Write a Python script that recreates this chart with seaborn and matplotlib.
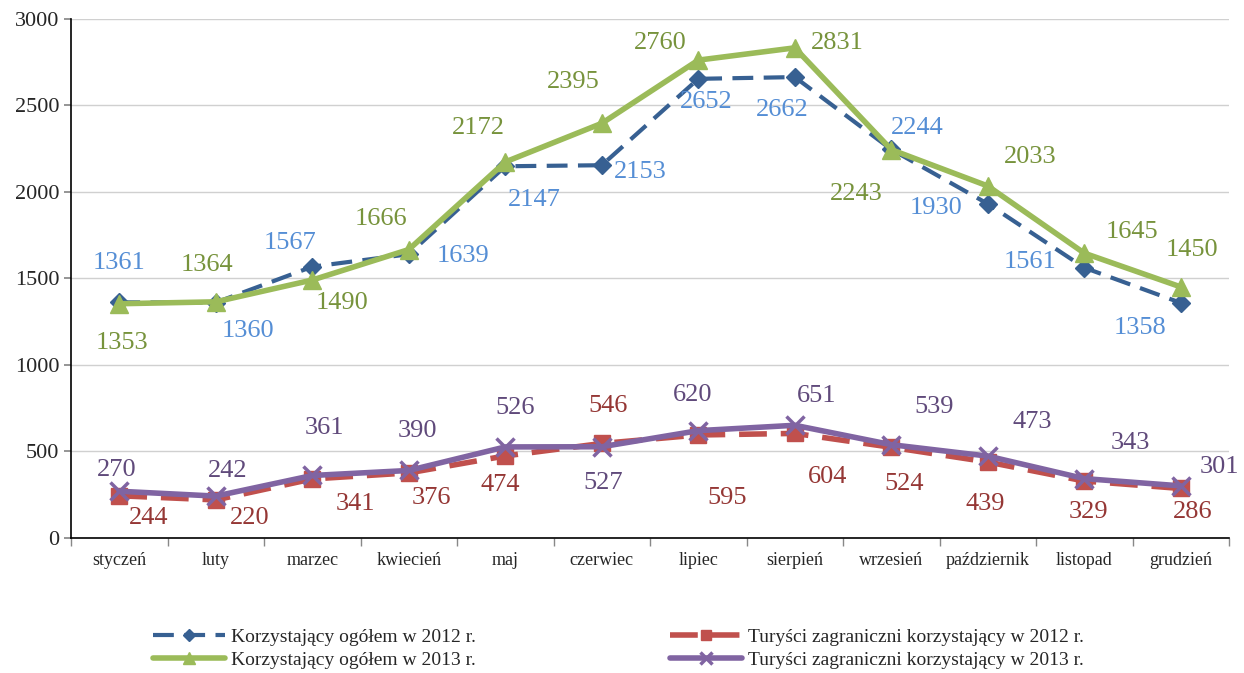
import numpy as np
import pandas as pd
import matplotlib.pyplot as plt
import seaborn as sns

months = ['styczeń', 'luty', 'marzec', 'kwiecień', 'maj', 'czerwiec', 'lipiec',
          'sierpień', 'wrzesień', 'październik', 'listopad', 'grudzień']
total_2012 = [1361, 1360, 1567, 1639, 2147, 2153, 2652, 2662, 2244, 1930, 1561, 1358]
total_2013 = [1353, 1364, 1490, 1666, 2172, 2395, 2760, 2831, 2243, 2033, 1645, 1450]
foreign_2012 = [244, 220, 341, 376, 474, 546, 595, 604, 524, 439, 329, 286]
foreign_2013 = [270, 242, 361, 390, 526, 527, 620, 651, 539, 473, 343, 301]
names = ['Korzystający ogółem w 2012 r.', 'Korzystający ogółem w 2013 r.',
         'Turyści zagraniczni korzystający w 2012 r.', 'Turyści zagraniczni korzystający w 2013 r.']

# label offsets in pixels (dx right, dy down)
off_t12 = [(0, -39), (32, 28), (-22, -24), (54, 2), (29, 34), (38, 7), (8, 23),
           (-13, 33), (26, -21), (-52, 4), (-54, -6), (-41, 25)]
off_t13 = [(3, 39), (-9, -37), (30, 23), (-28, -31), (-27, -34), (-29, -41), (-38, -17),
           (43, -5), (-35, 44), (42, -29), (48, -21), (11, -37)]
off_f12 = [(29, 22), (34, 18), (43, 25), (23, 25), (-5, 29), (6, -37), (29, 63),
           (33, 44), (13, 37), (-3, 42), (4, 31), (12, 24)]
off_f13 = [(-3, -21), (12, -25), (12, -47), (9, -39), (10, -39), (1, 36), (-6, -36),
           (22, -29), (43, -38), (44, -34), (46, -36), (39, -19)]

sns.set_theme(style='white')
plt.rcParams['font.family'] = ['Liberation Serif', 'DejaVu Serif']

x = np.arange(len(months))
df = pd.DataFrame({'x': x, 't12': total_2012, 't13': total_2013,
                   'f12': foreign_2012, 'f13': foreign_2013})

fig = plt.figure(figsize=(12.44, 6.73), dpi=100)
ax = fig.add_axes([0.0571, 0.2006, 0.9309, 0.7718])

series = [
    ('t12', names[0], '#376092', (0, (5, 2.5)), 'D', 9, 3.0, '#558ED5', off_t12),
    ('t13', names[1], '#9BBB59', '-', '^', 13, 4.0, '#77933C', off_t13),
    ('f12', names[2], '#C0504D', (0, (5, 2.5)), 's', 11, 4.0, '#953735', off_f12),
    ('f13', names[3], '#8064A2', '-', 'x', 13, 4.0, '#604A7B', off_f13),
]

for col, name, color, ls, mk, ms, lw, lc, offs in series:
    sns.lineplot(data=df, x='x', y=col, ax=ax, color=color, linestyle=ls, marker=mk,
                 markersize=ms, linewidth=lw, markeredgecolor=color,
                 markeredgewidth=2.5 if mk == 'x' else 1, label=name)
    for i, v in enumerate(df[col]):
        dx, dy = offs[i]
        ax.annotate(str(v), (x[i], v), xytext=(dx, -dy), textcoords='offset pixels',
                    ha='center', va='center', fontsize=19, color=lc)

ax.set_xlim(-0.5, 11.5)
ax.set_ylim(0, 3000)
ax.set_yticks(range(0, 3001, 500))
ax.set_xticks(x)
ax.set_xticklabels(months, fontsize=13)
ax.set_xticks(np.arange(-0.5, 12, 1), minor=True)
ax.tick_params(axis='x', which='major', length=0, pad=10)
ax.tick_params(axis='x', which='minor', length=6, color='#888888', direction='out', bottom=True)
ax.tick_params(axis='y', labelsize=16, length=5, direction='out', left=True, color='#888888')
ax.set_xlabel('')
ax.set_ylabel('')
ax.grid(axis='y', color='#d0d0d0', linewidth=1)
ax.set_axisbelow(True)
for s in ['top', 'right']:
    ax.spines[s].set_visible(False)
for s in ['left', 'bottom']:
    ax.spines[s].set_color('black')
    ax.spines[s].set_linewidth(1.2)

handles, labels = ax.get_legend_handles_labels()
ax.get_legend().remove()
fig.legend(handles, labels, ncol=2, loc='center', bbox_to_anchor=(0.497, 0.036),
           frameon=False, fontsize=14, handlelength=3.7, columnspacing=10.0,
           labelspacing=0.3, handletextpad=0.3, markerscale=0.7)

plt.savefig('out.png', dpi=100)
